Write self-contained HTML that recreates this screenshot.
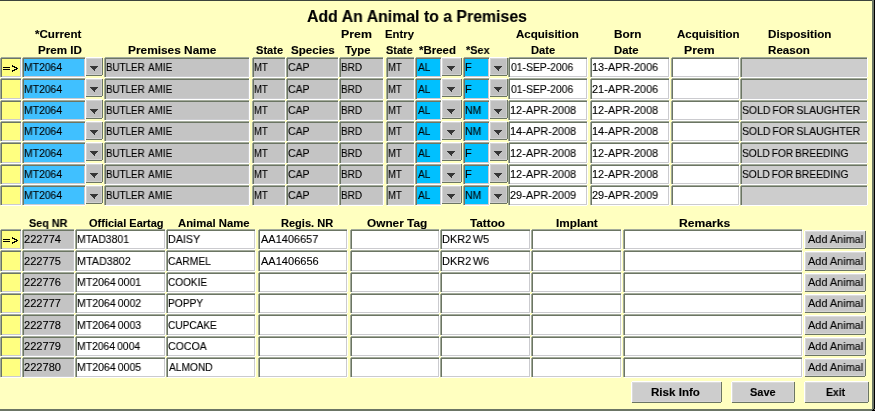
<!DOCTYPE html>
<html><head><meta charset="utf-8"><style>
html,body{margin:0;padding:0;}
body{width:875px;height:411px;overflow:hidden;background:#FFFFC0;position:relative;font-family:"Liberation Sans", sans-serif;}
.f{position:absolute;clip-path:polygon(1px 0,calc(100% - 1px) 0,calc(100% - 1px) 1px,100% 1px,100% calc(100% - 1px),calc(100% - 1px) calc(100% - 1px),calc(100% - 1px) 100%,1px 100%,1px calc(100% - 1px),0 calc(100% - 1px),0 1px,1px 1px);border:1px solid;border-color:#A3AB9B #FFFFFF #FFFFFF #A3AB9B;box-shadow:inset 1px 1px 0 #6B7563, inset -1px -1px 0 #CBCBCF;padding:1px;}
.b{position:absolute;clip-path:polygon(1px 0,calc(100% - 1px) 0,calc(100% - 1px) 1px,100% 1px,100% calc(100% - 1px),calc(100% - 1px) calc(100% - 1px),calc(100% - 1px) 100%,1px 100%,1px calc(100% - 1px),0 calc(100% - 1px),0 1px,1px 1px);border:1px solid;border-color:#FFFFFF #6B7563 #6B7563 #FFFFFF;box-shadow:inset 1px 1px 0 #D4D4D4, inset -1px -1px 0 #D0D0D0;}
.pb{position:absolute;box-shadow:inset 1px 1px 0 #DADADA, inset -1px -1px 0 #D4D4D4;clip-path:polygon(1px 0,calc(100% - 1px) 0,calc(100% - 1px) 1px,100% 1px,100% calc(100% - 1px),calc(100% - 1px) calc(100% - 1px),calc(100% - 1px) 100%,1px 100%,1px calc(100% - 1px),0 calc(100% - 1px),0 1px,1px 1px);border:1px solid;border-color:#FFFFFF #6B7563 #6B7563 #FFFFFF;}
.tri{position:absolute;fill:#363636;}
.t{position:absolute;white-space:nowrap;color:#000;will-change:transform;transform-origin:0 0;-webkit-text-stroke:0.12px #000;}
.ar{position:absolute;fill:#000;}
.fr{position:absolute;}
</style></head><body>
<div class="f" style="left:0px;top:57px;width:18px;height:17px;background:#FFFF80"></div>
<svg class="ar" style="left:0;top:57px" width="20" height="22" shape-rendering="crispEdges"><rect x="3" y="10" width="7" height="1"/><rect x="3" y="12" width="7" height="1"/><rect x="12" y="8" width="1" height="1"/><rect x="12" y="9" width="3" height="1"/><rect x="14" y="10" width="3" height="1"/><rect x="16" y="11" width="2" height="1"/><rect x="14" y="12" width="3" height="1"/><rect x="12" y="13" width="3" height="1"/><rect x="12" y="14" width="1" height="1"/></svg>
<div class="f" style="left:22px;top:57px;width:60px;height:17px;background:#40C0FF"></div>
<div class="f" style="left:104px;top:57px;width:142px;height:17px;background:#C4C4C4"></div>
<div class="f" style="left:252px;top:57px;width:30px;height:17px;background:#C4C4C4"></div>
<div class="f" style="left:286px;top:57px;width:49px;height:17px;background:#C4C4C4"></div>
<div class="f" style="left:339px;top:57px;width:41px;height:17px;background:#C4C4C4"></div>
<div class="f" style="left:386px;top:57px;width:25px;height:17px;background:#C4C4C4"></div>
<div class="f" style="left:415px;top:57px;width:23px;height:17px;background:#00C0FF"></div>
<div class="f" style="left:463px;top:57px;width:23px;height:17px;background:#00C0FF"></div>
<div class="f" style="left:508px;top:57px;width:76px;height:17px;background:#FFFFFF"></div>
<div class="f" style="left:590px;top:57px;width:76px;height:17px;background:#FFFFFF"></div>
<div class="f" style="left:671px;top:57px;width:65px;height:17px;background:#FFFFFF"></div>
<div class="f" style="left:740px;top:57px;width:124px;height:17px;background:#CDCDCD"></div>
<div class="b" style="left:85px;top:57px;width:16px;height:17px;background:#C0C0C0"></div>
<svg class="tri" style="left:90px;top:66px" width="8" height="5" shape-rendering="crispEdges"><rect x="0" y="0" width="8" height="1"/><rect x="1" y="1" width="6" height="1"/><rect x="2" y="2" width="4" height="1"/><rect x="3" y="3" width="2" height="1"/><rect x="4" y="4" width="1" height="1"/></svg>
<div class="b" style="left:441px;top:57px;width:19px;height:17px;background:#C0C0C0"></div>
<svg class="tri" style="left:447px;top:66px" width="8" height="5" shape-rendering="crispEdges"><rect x="0" y="0" width="8" height="1"/><rect x="1" y="1" width="6" height="1"/><rect x="2" y="2" width="4" height="1"/><rect x="3" y="3" width="2" height="1"/><rect x="4" y="4" width="1" height="1"/></svg>
<div class="b" style="left:489px;top:57px;width:17px;height:17px;background:#C0C0C0"></div>
<svg class="tri" style="left:494px;top:66px" width="8" height="5" shape-rendering="crispEdges"><rect x="0" y="0" width="8" height="1"/><rect x="1" y="1" width="6" height="1"/><rect x="2" y="2" width="4" height="1"/><rect x="3" y="3" width="2" height="1"/><rect x="4" y="4" width="1" height="1"/></svg>
<div class="f" style="left:0px;top:78px;width:18px;height:18px;background:#FFFF80"></div>
<div class="f" style="left:22px;top:78px;width:60px;height:18px;background:#40C0FF"></div>
<div class="f" style="left:104px;top:78px;width:142px;height:18px;background:#C4C4C4"></div>
<div class="f" style="left:252px;top:78px;width:30px;height:18px;background:#C4C4C4"></div>
<div class="f" style="left:286px;top:78px;width:49px;height:18px;background:#C4C4C4"></div>
<div class="f" style="left:339px;top:78px;width:41px;height:18px;background:#C4C4C4"></div>
<div class="f" style="left:386px;top:78px;width:25px;height:18px;background:#C4C4C4"></div>
<div class="f" style="left:415px;top:78px;width:23px;height:18px;background:#00C0FF"></div>
<div class="f" style="left:463px;top:78px;width:23px;height:18px;background:#00C0FF"></div>
<div class="f" style="left:508px;top:78px;width:76px;height:18px;background:#FFFFFF"></div>
<div class="f" style="left:590px;top:78px;width:76px;height:18px;background:#FFFFFF"></div>
<div class="f" style="left:671px;top:78px;width:65px;height:18px;background:#FFFFFF"></div>
<div class="f" style="left:740px;top:78px;width:124px;height:18px;background:#CDCDCD"></div>
<div class="b" style="left:85px;top:78px;width:16px;height:17px;background:#C0C0C0"></div>
<svg class="tri" style="left:90px;top:87px" width="8" height="5" shape-rendering="crispEdges"><rect x="0" y="0" width="8" height="1"/><rect x="1" y="1" width="6" height="1"/><rect x="2" y="2" width="4" height="1"/><rect x="3" y="3" width="2" height="1"/><rect x="4" y="4" width="1" height="1"/></svg>
<div class="b" style="left:441px;top:78px;width:19px;height:17px;background:#C0C0C0"></div>
<svg class="tri" style="left:447px;top:87px" width="8" height="5" shape-rendering="crispEdges"><rect x="0" y="0" width="8" height="1"/><rect x="1" y="1" width="6" height="1"/><rect x="2" y="2" width="4" height="1"/><rect x="3" y="3" width="2" height="1"/><rect x="4" y="4" width="1" height="1"/></svg>
<div class="b" style="left:489px;top:78px;width:17px;height:17px;background:#C0C0C0"></div>
<svg class="tri" style="left:494px;top:87px" width="8" height="5" shape-rendering="crispEdges"><rect x="0" y="0" width="8" height="1"/><rect x="1" y="1" width="6" height="1"/><rect x="2" y="2" width="4" height="1"/><rect x="3" y="3" width="2" height="1"/><rect x="4" y="4" width="1" height="1"/></svg>
<div class="f" style="left:0px;top:100px;width:18px;height:17px;background:#FFFF80"></div>
<div class="f" style="left:22px;top:100px;width:60px;height:17px;background:#40C0FF"></div>
<div class="f" style="left:104px;top:100px;width:142px;height:17px;background:#C4C4C4"></div>
<div class="f" style="left:252px;top:100px;width:30px;height:17px;background:#C4C4C4"></div>
<div class="f" style="left:286px;top:100px;width:49px;height:17px;background:#C4C4C4"></div>
<div class="f" style="left:339px;top:100px;width:41px;height:17px;background:#C4C4C4"></div>
<div class="f" style="left:386px;top:100px;width:25px;height:17px;background:#C4C4C4"></div>
<div class="f" style="left:415px;top:100px;width:23px;height:17px;background:#00C0FF"></div>
<div class="f" style="left:463px;top:100px;width:23px;height:17px;background:#00C0FF"></div>
<div class="f" style="left:508px;top:100px;width:76px;height:17px;background:#FFFFFF"></div>
<div class="f" style="left:590px;top:100px;width:76px;height:17px;background:#FFFFFF"></div>
<div class="f" style="left:671px;top:100px;width:65px;height:17px;background:#FFFFFF"></div>
<div class="f" style="left:740px;top:100px;width:124px;height:17px;background:#CDCDCD"></div>
<div class="b" style="left:85px;top:99px;width:16px;height:18px;background:#C0C0C0"></div>
<svg class="tri" style="left:90px;top:109px" width="8" height="5" shape-rendering="crispEdges"><rect x="0" y="0" width="8" height="1"/><rect x="1" y="1" width="6" height="1"/><rect x="2" y="2" width="4" height="1"/><rect x="3" y="3" width="2" height="1"/><rect x="4" y="4" width="1" height="1"/></svg>
<div class="b" style="left:441px;top:99px;width:19px;height:18px;background:#C0C0C0"></div>
<svg class="tri" style="left:447px;top:109px" width="8" height="5" shape-rendering="crispEdges"><rect x="0" y="0" width="8" height="1"/><rect x="1" y="1" width="6" height="1"/><rect x="2" y="2" width="4" height="1"/><rect x="3" y="3" width="2" height="1"/><rect x="4" y="4" width="1" height="1"/></svg>
<div class="b" style="left:489px;top:99px;width:17px;height:18px;background:#C0C0C0"></div>
<svg class="tri" style="left:494px;top:109px" width="8" height="5" shape-rendering="crispEdges"><rect x="0" y="0" width="8" height="1"/><rect x="1" y="1" width="6" height="1"/><rect x="2" y="2" width="4" height="1"/><rect x="3" y="3" width="2" height="1"/><rect x="4" y="4" width="1" height="1"/></svg>
<div class="f" style="left:0px;top:121px;width:18px;height:17px;background:#FFFF80"></div>
<div class="f" style="left:22px;top:121px;width:60px;height:17px;background:#40C0FF"></div>
<div class="f" style="left:104px;top:121px;width:142px;height:17px;background:#C4C4C4"></div>
<div class="f" style="left:252px;top:121px;width:30px;height:17px;background:#C4C4C4"></div>
<div class="f" style="left:286px;top:121px;width:49px;height:17px;background:#C4C4C4"></div>
<div class="f" style="left:339px;top:121px;width:41px;height:17px;background:#C4C4C4"></div>
<div class="f" style="left:386px;top:121px;width:25px;height:17px;background:#C4C4C4"></div>
<div class="f" style="left:415px;top:121px;width:23px;height:17px;background:#00C0FF"></div>
<div class="f" style="left:463px;top:121px;width:23px;height:17px;background:#00C0FF"></div>
<div class="f" style="left:508px;top:121px;width:76px;height:17px;background:#FFFFFF"></div>
<div class="f" style="left:590px;top:121px;width:76px;height:17px;background:#FFFFFF"></div>
<div class="f" style="left:671px;top:121px;width:65px;height:17px;background:#FFFFFF"></div>
<div class="f" style="left:740px;top:121px;width:124px;height:17px;background:#CDCDCD"></div>
<div class="b" style="left:85px;top:121px;width:16px;height:17px;background:#C0C0C0"></div>
<svg class="tri" style="left:90px;top:130px" width="8" height="5" shape-rendering="crispEdges"><rect x="0" y="0" width="8" height="1"/><rect x="1" y="1" width="6" height="1"/><rect x="2" y="2" width="4" height="1"/><rect x="3" y="3" width="2" height="1"/><rect x="4" y="4" width="1" height="1"/></svg>
<div class="b" style="left:441px;top:121px;width:19px;height:17px;background:#C0C0C0"></div>
<svg class="tri" style="left:447px;top:130px" width="8" height="5" shape-rendering="crispEdges"><rect x="0" y="0" width="8" height="1"/><rect x="1" y="1" width="6" height="1"/><rect x="2" y="2" width="4" height="1"/><rect x="3" y="3" width="2" height="1"/><rect x="4" y="4" width="1" height="1"/></svg>
<div class="b" style="left:489px;top:121px;width:17px;height:17px;background:#C0C0C0"></div>
<svg class="tri" style="left:494px;top:130px" width="8" height="5" shape-rendering="crispEdges"><rect x="0" y="0" width="8" height="1"/><rect x="1" y="1" width="6" height="1"/><rect x="2" y="2" width="4" height="1"/><rect x="3" y="3" width="2" height="1"/><rect x="4" y="4" width="1" height="1"/></svg>
<div class="f" style="left:0px;top:142px;width:18px;height:18px;background:#FFFF80"></div>
<div class="f" style="left:22px;top:142px;width:60px;height:18px;background:#40C0FF"></div>
<div class="f" style="left:104px;top:142px;width:142px;height:18px;background:#C4C4C4"></div>
<div class="f" style="left:252px;top:142px;width:30px;height:18px;background:#C4C4C4"></div>
<div class="f" style="left:286px;top:142px;width:49px;height:18px;background:#C4C4C4"></div>
<div class="f" style="left:339px;top:142px;width:41px;height:18px;background:#C4C4C4"></div>
<div class="f" style="left:386px;top:142px;width:25px;height:18px;background:#C4C4C4"></div>
<div class="f" style="left:415px;top:142px;width:23px;height:18px;background:#00C0FF"></div>
<div class="f" style="left:463px;top:142px;width:23px;height:18px;background:#00C0FF"></div>
<div class="f" style="left:508px;top:142px;width:76px;height:18px;background:#FFFFFF"></div>
<div class="f" style="left:590px;top:142px;width:76px;height:18px;background:#FFFFFF"></div>
<div class="f" style="left:671px;top:142px;width:65px;height:18px;background:#FFFFFF"></div>
<div class="f" style="left:740px;top:142px;width:124px;height:18px;background:#CDCDCD"></div>
<div class="b" style="left:85px;top:142px;width:16px;height:17px;background:#C0C0C0"></div>
<svg class="tri" style="left:90px;top:151px" width="8" height="5" shape-rendering="crispEdges"><rect x="0" y="0" width="8" height="1"/><rect x="1" y="1" width="6" height="1"/><rect x="2" y="2" width="4" height="1"/><rect x="3" y="3" width="2" height="1"/><rect x="4" y="4" width="1" height="1"/></svg>
<div class="b" style="left:441px;top:142px;width:19px;height:17px;background:#C0C0C0"></div>
<svg class="tri" style="left:447px;top:151px" width="8" height="5" shape-rendering="crispEdges"><rect x="0" y="0" width="8" height="1"/><rect x="1" y="1" width="6" height="1"/><rect x="2" y="2" width="4" height="1"/><rect x="3" y="3" width="2" height="1"/><rect x="4" y="4" width="1" height="1"/></svg>
<div class="b" style="left:489px;top:142px;width:17px;height:17px;background:#C0C0C0"></div>
<svg class="tri" style="left:494px;top:151px" width="8" height="5" shape-rendering="crispEdges"><rect x="0" y="0" width="8" height="1"/><rect x="1" y="1" width="6" height="1"/><rect x="2" y="2" width="4" height="1"/><rect x="3" y="3" width="2" height="1"/><rect x="4" y="4" width="1" height="1"/></svg>
<div class="f" style="left:0px;top:164px;width:18px;height:17px;background:#FFFF80"></div>
<div class="f" style="left:22px;top:164px;width:60px;height:17px;background:#40C0FF"></div>
<div class="f" style="left:104px;top:164px;width:142px;height:17px;background:#C4C4C4"></div>
<div class="f" style="left:252px;top:164px;width:30px;height:17px;background:#C4C4C4"></div>
<div class="f" style="left:286px;top:164px;width:49px;height:17px;background:#C4C4C4"></div>
<div class="f" style="left:339px;top:164px;width:41px;height:17px;background:#C4C4C4"></div>
<div class="f" style="left:386px;top:164px;width:25px;height:17px;background:#C4C4C4"></div>
<div class="f" style="left:415px;top:164px;width:23px;height:17px;background:#00C0FF"></div>
<div class="f" style="left:463px;top:164px;width:23px;height:17px;background:#00C0FF"></div>
<div class="f" style="left:508px;top:164px;width:76px;height:17px;background:#FFFFFF"></div>
<div class="f" style="left:590px;top:164px;width:76px;height:17px;background:#FFFFFF"></div>
<div class="f" style="left:671px;top:164px;width:65px;height:17px;background:#FFFFFF"></div>
<div class="f" style="left:740px;top:164px;width:124px;height:17px;background:#CDCDCD"></div>
<div class="b" style="left:85px;top:163px;width:16px;height:18px;background:#C0C0C0"></div>
<svg class="tri" style="left:90px;top:173px" width="8" height="5" shape-rendering="crispEdges"><rect x="0" y="0" width="8" height="1"/><rect x="1" y="1" width="6" height="1"/><rect x="2" y="2" width="4" height="1"/><rect x="3" y="3" width="2" height="1"/><rect x="4" y="4" width="1" height="1"/></svg>
<div class="b" style="left:441px;top:163px;width:19px;height:18px;background:#C0C0C0"></div>
<svg class="tri" style="left:447px;top:173px" width="8" height="5" shape-rendering="crispEdges"><rect x="0" y="0" width="8" height="1"/><rect x="1" y="1" width="6" height="1"/><rect x="2" y="2" width="4" height="1"/><rect x="3" y="3" width="2" height="1"/><rect x="4" y="4" width="1" height="1"/></svg>
<div class="b" style="left:489px;top:163px;width:17px;height:18px;background:#C0C0C0"></div>
<svg class="tri" style="left:494px;top:173px" width="8" height="5" shape-rendering="crispEdges"><rect x="0" y="0" width="8" height="1"/><rect x="1" y="1" width="6" height="1"/><rect x="2" y="2" width="4" height="1"/><rect x="3" y="3" width="2" height="1"/><rect x="4" y="4" width="1" height="1"/></svg>
<div class="f" style="left:0px;top:185px;width:18px;height:17px;background:#FFFF80"></div>
<div class="f" style="left:22px;top:185px;width:60px;height:17px;background:#40C0FF"></div>
<div class="f" style="left:104px;top:185px;width:142px;height:17px;background:#C4C4C4"></div>
<div class="f" style="left:252px;top:185px;width:30px;height:17px;background:#C4C4C4"></div>
<div class="f" style="left:286px;top:185px;width:49px;height:17px;background:#C4C4C4"></div>
<div class="f" style="left:339px;top:185px;width:41px;height:17px;background:#C4C4C4"></div>
<div class="f" style="left:386px;top:185px;width:25px;height:17px;background:#C4C4C4"></div>
<div class="f" style="left:415px;top:185px;width:23px;height:17px;background:#00C0FF"></div>
<div class="f" style="left:463px;top:185px;width:23px;height:17px;background:#00C0FF"></div>
<div class="f" style="left:508px;top:185px;width:76px;height:17px;background:#FFFFFF"></div>
<div class="f" style="left:590px;top:185px;width:76px;height:17px;background:#FFFFFF"></div>
<div class="f" style="left:671px;top:185px;width:65px;height:17px;background:#FFFFFF"></div>
<div class="f" style="left:740px;top:185px;width:124px;height:17px;background:#CDCDCD"></div>
<div class="b" style="left:85px;top:185px;width:16px;height:17px;background:#C0C0C0"></div>
<svg class="tri" style="left:90px;top:194px" width="8" height="5" shape-rendering="crispEdges"><rect x="0" y="0" width="8" height="1"/><rect x="1" y="1" width="6" height="1"/><rect x="2" y="2" width="4" height="1"/><rect x="3" y="3" width="2" height="1"/><rect x="4" y="4" width="1" height="1"/></svg>
<div class="b" style="left:441px;top:185px;width:19px;height:17px;background:#C0C0C0"></div>
<svg class="tri" style="left:447px;top:194px" width="8" height="5" shape-rendering="crispEdges"><rect x="0" y="0" width="8" height="1"/><rect x="1" y="1" width="6" height="1"/><rect x="2" y="2" width="4" height="1"/><rect x="3" y="3" width="2" height="1"/><rect x="4" y="4" width="1" height="1"/></svg>
<div class="b" style="left:489px;top:185px;width:17px;height:17px;background:#C0C0C0"></div>
<svg class="tri" style="left:494px;top:194px" width="8" height="5" shape-rendering="crispEdges"><rect x="0" y="0" width="8" height="1"/><rect x="1" y="1" width="6" height="1"/><rect x="2" y="2" width="4" height="1"/><rect x="3" y="3" width="2" height="1"/><rect x="4" y="4" width="1" height="1"/></svg>
<div class="f" style="left:0px;top:229px;width:18px;height:17px;background:#FFFF80"></div>
<svg class="ar" style="left:0;top:229px" width="20" height="22" shape-rendering="crispEdges"><rect x="3" y="10" width="7" height="1"/><rect x="3" y="12" width="7" height="1"/><rect x="12" y="8" width="1" height="1"/><rect x="12" y="9" width="3" height="1"/><rect x="14" y="10" width="3" height="1"/><rect x="16" y="11" width="2" height="1"/><rect x="14" y="12" width="3" height="1"/><rect x="12" y="13" width="3" height="1"/><rect x="12" y="14" width="1" height="1"/></svg>
<div class="f" style="left:22px;top:229px;width:49px;height:17px;background:#C4C4C4"></div>
<div class="f" style="left:75px;top:229px;width:87px;height:17px;background:#FFFFFF"></div>
<div class="f" style="left:166px;top:229px;width:86px;height:17px;background:#FFFFFF"></div>
<div class="f" style="left:258px;top:229px;width:86px;height:17px;background:#FFFFFF"></div>
<div class="f" style="left:350px;top:229px;width:86px;height:17px;background:#FFFFFF"></div>
<div class="f" style="left:440px;top:229px;width:87px;height:17px;background:#FFFFFF"></div>
<div class="f" style="left:531px;top:229px;width:87px;height:17px;background:#FFFFFF"></div>
<div class="f" style="left:623px;top:229px;width:176px;height:17px;background:#FFFFFF"></div>
<div class="pb" style="left:804px;top:230px;width:60px;height:17px;background:#C8C8C8"></div>
<div class="f" style="left:0px;top:250px;width:18px;height:18px;background:#FFFF80"></div>
<div class="f" style="left:22px;top:250px;width:49px;height:18px;background:#C4C4C4"></div>
<div class="f" style="left:75px;top:250px;width:87px;height:18px;background:#FFFFFF"></div>
<div class="f" style="left:166px;top:250px;width:86px;height:18px;background:#FFFFFF"></div>
<div class="f" style="left:258px;top:250px;width:86px;height:18px;background:#FFFFFF"></div>
<div class="f" style="left:350px;top:250px;width:86px;height:18px;background:#FFFFFF"></div>
<div class="f" style="left:440px;top:250px;width:87px;height:18px;background:#FFFFFF"></div>
<div class="f" style="left:531px;top:250px;width:87px;height:18px;background:#FFFFFF"></div>
<div class="f" style="left:623px;top:250px;width:176px;height:18px;background:#FFFFFF"></div>
<div class="pb" style="left:804px;top:251px;width:60px;height:18px;background:#C8C8C8"></div>
<div class="f" style="left:0px;top:272px;width:18px;height:17px;background:#FFFF80"></div>
<div class="f" style="left:22px;top:272px;width:49px;height:17px;background:#C4C4C4"></div>
<div class="f" style="left:75px;top:272px;width:87px;height:17px;background:#FFFFFF"></div>
<div class="f" style="left:166px;top:272px;width:86px;height:17px;background:#FFFFFF"></div>
<div class="f" style="left:258px;top:272px;width:86px;height:17px;background:#FFFFFF"></div>
<div class="f" style="left:350px;top:272px;width:86px;height:17px;background:#FFFFFF"></div>
<div class="f" style="left:440px;top:272px;width:87px;height:17px;background:#FFFFFF"></div>
<div class="f" style="left:531px;top:272px;width:87px;height:17px;background:#FFFFFF"></div>
<div class="f" style="left:623px;top:272px;width:176px;height:17px;background:#FFFFFF"></div>
<div class="pb" style="left:804px;top:273px;width:60px;height:17px;background:#C8C8C8"></div>
<div class="f" style="left:0px;top:293px;width:18px;height:17px;background:#FFFF80"></div>
<div class="f" style="left:22px;top:293px;width:49px;height:17px;background:#C4C4C4"></div>
<div class="f" style="left:75px;top:293px;width:87px;height:17px;background:#FFFFFF"></div>
<div class="f" style="left:166px;top:293px;width:86px;height:17px;background:#FFFFFF"></div>
<div class="f" style="left:258px;top:293px;width:86px;height:17px;background:#FFFFFF"></div>
<div class="f" style="left:350px;top:293px;width:86px;height:17px;background:#FFFFFF"></div>
<div class="f" style="left:440px;top:293px;width:87px;height:17px;background:#FFFFFF"></div>
<div class="f" style="left:531px;top:293px;width:87px;height:17px;background:#FFFFFF"></div>
<div class="f" style="left:623px;top:293px;width:176px;height:17px;background:#FFFFFF"></div>
<div class="pb" style="left:804px;top:294px;width:60px;height:17px;background:#C8C8C8"></div>
<div class="f" style="left:0px;top:314px;width:18px;height:18px;background:#FFFF80"></div>
<div class="f" style="left:22px;top:314px;width:49px;height:18px;background:#C4C4C4"></div>
<div class="f" style="left:75px;top:314px;width:87px;height:18px;background:#FFFFFF"></div>
<div class="f" style="left:166px;top:314px;width:86px;height:18px;background:#FFFFFF"></div>
<div class="f" style="left:258px;top:314px;width:86px;height:18px;background:#FFFFFF"></div>
<div class="f" style="left:350px;top:314px;width:86px;height:18px;background:#FFFFFF"></div>
<div class="f" style="left:440px;top:314px;width:87px;height:18px;background:#FFFFFF"></div>
<div class="f" style="left:531px;top:314px;width:87px;height:18px;background:#FFFFFF"></div>
<div class="f" style="left:623px;top:314px;width:176px;height:18px;background:#FFFFFF"></div>
<div class="pb" style="left:804px;top:315px;width:60px;height:18px;background:#C8C8C8"></div>
<div class="f" style="left:0px;top:336px;width:18px;height:17px;background:#FFFF80"></div>
<div class="f" style="left:22px;top:336px;width:49px;height:17px;background:#C4C4C4"></div>
<div class="f" style="left:75px;top:336px;width:87px;height:17px;background:#FFFFFF"></div>
<div class="f" style="left:166px;top:336px;width:86px;height:17px;background:#FFFFFF"></div>
<div class="f" style="left:258px;top:336px;width:86px;height:17px;background:#FFFFFF"></div>
<div class="f" style="left:350px;top:336px;width:86px;height:17px;background:#FFFFFF"></div>
<div class="f" style="left:440px;top:336px;width:87px;height:17px;background:#FFFFFF"></div>
<div class="f" style="left:531px;top:336px;width:87px;height:17px;background:#FFFFFF"></div>
<div class="f" style="left:623px;top:336px;width:176px;height:17px;background:#FFFFFF"></div>
<div class="pb" style="left:804px;top:337px;width:60px;height:17px;background:#C8C8C8"></div>
<div class="f" style="left:0px;top:357px;width:18px;height:17px;background:#FFFF80"></div>
<div class="f" style="left:22px;top:357px;width:49px;height:17px;background:#C4C4C4"></div>
<div class="f" style="left:75px;top:357px;width:87px;height:17px;background:#FFFFFF"></div>
<div class="f" style="left:166px;top:357px;width:86px;height:17px;background:#FFFFFF"></div>
<div class="f" style="left:258px;top:357px;width:86px;height:17px;background:#FFFFFF"></div>
<div class="f" style="left:350px;top:357px;width:86px;height:17px;background:#FFFFFF"></div>
<div class="f" style="left:440px;top:357px;width:87px;height:17px;background:#FFFFFF"></div>
<div class="f" style="left:531px;top:357px;width:87px;height:17px;background:#FFFFFF"></div>
<div class="f" style="left:623px;top:357px;width:176px;height:17px;background:#FFFFFF"></div>
<div class="pb" style="left:804px;top:358px;width:60px;height:17px;background:#C8C8C8"></div>
<div class="pb" style="left:631px;top:381px;width:89px;height:20px;background:#CDCDCD"></div>
<div class="pb" style="left:731px;top:381px;width:62px;height:20px;background:#CDCDCD"></div>
<div class="pb" style="left:804px;top:381px;width:63px;height:20px;background:#CDCDCD"></div>
<span class="t" style="left:24.1px;top:59.7px;font-size:11px;line-height:15px;font-weight:400;letter-spacing:0.000px;word-spacing:0px;transform:scaleX(0.9436)">MT2064</span>
<span class="t" style="left:106.1px;top:59.7px;font-size:11px;line-height:15px;font-weight:400;letter-spacing:0.000px;word-spacing:1.5px;transform:scaleX(0.8904)">BUTLER AMIE</span>
<span class="t" style="left:254.1px;top:59.7px;font-size:11px;line-height:15px;font-weight:400;letter-spacing:0.000px;word-spacing:0px;transform:scaleX(0.8600)">MT</span>
<span class="t" style="left:288.0px;top:59.7px;font-size:11px;line-height:15px;font-weight:400;letter-spacing:0.000px;word-spacing:0px;transform:scaleX(0.9524)">CAP</span>
<span class="t" style="left:341.1px;top:59.7px;font-size:11px;line-height:15px;font-weight:400;letter-spacing:0.000px;word-spacing:0px;transform:scaleX(0.9091)">BRD</span>
<span class="t" style="left:388.1px;top:59.7px;font-size:11px;line-height:15px;font-weight:400;letter-spacing:0.000px;word-spacing:0px;transform:scaleX(0.8600)">MT</span>
<span class="t" style="left:418.0px;top:59.7px;font-size:11px;line-height:15px;font-weight:400;letter-spacing:0.000px;word-spacing:0px;transform:scaleX(0.9231)">AL</span>
<span class="t" style="left:465.0px;top:59.7px;font-size:11px;line-height:15px;font-weight:400;letter-spacing:0.000px;word-spacing:0px">F</span>
<span class="t" style="left:511.0px;top:59.7px;font-size:11px;line-height:15px;font-weight:400;letter-spacing:0.000px;word-spacing:0px;transform:scaleX(0.9424)">01-SEP-2006</span>
<span class="t" style="left:592.0px;top:59.7px;font-size:11px;line-height:15px;font-weight:400;letter-spacing:0.000px;word-spacing:0px;transform:scaleX(0.9923)">13-APR-2006</span>
<span class="t" style="left:24.1px;top:81.7px;font-size:11px;line-height:15px;font-weight:400;letter-spacing:0.000px;word-spacing:0px;transform:scaleX(0.9436)">MT2064</span>
<span class="t" style="left:106.1px;top:81.7px;font-size:11px;line-height:15px;font-weight:400;letter-spacing:0.000px;word-spacing:1.5px;transform:scaleX(0.8904)">BUTLER AMIE</span>
<span class="t" style="left:254.1px;top:81.7px;font-size:11px;line-height:15px;font-weight:400;letter-spacing:0.000px;word-spacing:0px;transform:scaleX(0.8600)">MT</span>
<span class="t" style="left:288.0px;top:81.7px;font-size:11px;line-height:15px;font-weight:400;letter-spacing:0.000px;word-spacing:0px;transform:scaleX(0.9524)">CAP</span>
<span class="t" style="left:341.1px;top:81.7px;font-size:11px;line-height:15px;font-weight:400;letter-spacing:0.000px;word-spacing:0px;transform:scaleX(0.9091)">BRD</span>
<span class="t" style="left:388.1px;top:81.7px;font-size:11px;line-height:15px;font-weight:400;letter-spacing:0.000px;word-spacing:0px;transform:scaleX(0.8600)">MT</span>
<span class="t" style="left:418.0px;top:81.7px;font-size:11px;line-height:15px;font-weight:400;letter-spacing:0.000px;word-spacing:0px;transform:scaleX(0.9231)">AL</span>
<span class="t" style="left:465.0px;top:81.7px;font-size:11px;line-height:15px;font-weight:400;letter-spacing:0.000px;word-spacing:0px">F</span>
<span class="t" style="left:511.0px;top:81.7px;font-size:11px;line-height:15px;font-weight:400;letter-spacing:0.000px;word-spacing:0px;transform:scaleX(0.9424)">01-SEP-2006</span>
<span class="t" style="left:592.0px;top:81.7px;font-size:11px;line-height:15px;font-weight:400;letter-spacing:0.000px;word-spacing:0px;transform:scaleX(0.9923)">21-APR-2006</span>
<span class="t" style="left:24.1px;top:102.7px;font-size:11px;line-height:15px;font-weight:400;letter-spacing:0.000px;word-spacing:0px;transform:scaleX(0.9436)">MT2064</span>
<span class="t" style="left:106.1px;top:102.7px;font-size:11px;line-height:15px;font-weight:400;letter-spacing:0.000px;word-spacing:1.5px;transform:scaleX(0.8904)">BUTLER AMIE</span>
<span class="t" style="left:254.1px;top:102.7px;font-size:11px;line-height:15px;font-weight:400;letter-spacing:0.000px;word-spacing:0px;transform:scaleX(0.8600)">MT</span>
<span class="t" style="left:288.0px;top:102.7px;font-size:11px;line-height:15px;font-weight:400;letter-spacing:0.000px;word-spacing:0px;transform:scaleX(0.9524)">CAP</span>
<span class="t" style="left:341.1px;top:102.7px;font-size:11px;line-height:15px;font-weight:400;letter-spacing:0.000px;word-spacing:0px;transform:scaleX(0.9091)">BRD</span>
<span class="t" style="left:388.1px;top:102.7px;font-size:11px;line-height:15px;font-weight:400;letter-spacing:0.000px;word-spacing:0px;transform:scaleX(0.8600)">MT</span>
<span class="t" style="left:418.0px;top:102.7px;font-size:11px;line-height:15px;font-weight:400;letter-spacing:0.000px;word-spacing:0px;transform:scaleX(0.9231)">AL</span>
<span class="t" style="left:465.1px;top:102.7px;font-size:11px;line-height:15px;font-weight:400;letter-spacing:0.000px;word-spacing:0px;transform:scaleX(0.9467)">NM</span>
<span class="t" style="left:510.0px;top:102.7px;font-size:11px;line-height:15px;font-weight:400;letter-spacing:0.000px;word-spacing:0px;transform:scaleX(0.9923)">12-APR-2008</span>
<span class="t" style="left:592.0px;top:102.7px;font-size:11px;line-height:15px;font-weight:400;letter-spacing:0.000px;word-spacing:0px;transform:scaleX(0.9923)">12-APR-2008</span>
<span class="t" style="left:742.1px;top:102.7px;font-size:11px;line-height:15px;font-weight:400;letter-spacing:0.000px;word-spacing:-1px;transform:scaleX(0.9496)">SOLD FOR SLAUGHTER</span>
<span class="t" style="left:24.1px;top:123.7px;font-size:11px;line-height:15px;font-weight:400;letter-spacing:0.000px;word-spacing:0px;transform:scaleX(0.9436)">MT2064</span>
<span class="t" style="left:106.1px;top:123.7px;font-size:11px;line-height:15px;font-weight:400;letter-spacing:0.000px;word-spacing:1.5px;transform:scaleX(0.8904)">BUTLER AMIE</span>
<span class="t" style="left:254.1px;top:123.7px;font-size:11px;line-height:15px;font-weight:400;letter-spacing:0.000px;word-spacing:0px;transform:scaleX(0.8600)">MT</span>
<span class="t" style="left:288.0px;top:123.7px;font-size:11px;line-height:15px;font-weight:400;letter-spacing:0.000px;word-spacing:0px;transform:scaleX(0.9524)">CAP</span>
<span class="t" style="left:341.1px;top:123.7px;font-size:11px;line-height:15px;font-weight:400;letter-spacing:0.000px;word-spacing:0px;transform:scaleX(0.9091)">BRD</span>
<span class="t" style="left:388.1px;top:123.7px;font-size:11px;line-height:15px;font-weight:400;letter-spacing:0.000px;word-spacing:0px;transform:scaleX(0.8600)">MT</span>
<span class="t" style="left:418.0px;top:123.7px;font-size:11px;line-height:15px;font-weight:400;letter-spacing:0.000px;word-spacing:0px;transform:scaleX(0.9231)">AL</span>
<span class="t" style="left:465.1px;top:123.7px;font-size:11px;line-height:15px;font-weight:400;letter-spacing:0.000px;word-spacing:0px;transform:scaleX(0.9467)">NM</span>
<span class="t" style="left:510.0px;top:123.7px;font-size:11px;line-height:15px;font-weight:400;letter-spacing:0.000px;word-spacing:0px;transform:scaleX(0.9923)">14-APR-2008</span>
<span class="t" style="left:592.0px;top:123.7px;font-size:11px;line-height:15px;font-weight:400;letter-spacing:0.000px;word-spacing:0px;transform:scaleX(0.9923)">14-APR-2008</span>
<span class="t" style="left:742.1px;top:123.7px;font-size:11px;line-height:15px;font-weight:400;letter-spacing:0.000px;word-spacing:-1px;transform:scaleX(0.9496)">SOLD FOR SLAUGHTER</span>
<span class="t" style="left:24.1px;top:145.7px;font-size:11px;line-height:15px;font-weight:400;letter-spacing:0.000px;word-spacing:0px;transform:scaleX(0.9436)">MT2064</span>
<span class="t" style="left:106.1px;top:145.7px;font-size:11px;line-height:15px;font-weight:400;letter-spacing:0.000px;word-spacing:1.5px;transform:scaleX(0.8904)">BUTLER AMIE</span>
<span class="t" style="left:254.1px;top:145.7px;font-size:11px;line-height:15px;font-weight:400;letter-spacing:0.000px;word-spacing:0px;transform:scaleX(0.8600)">MT</span>
<span class="t" style="left:288.0px;top:145.7px;font-size:11px;line-height:15px;font-weight:400;letter-spacing:0.000px;word-spacing:0px;transform:scaleX(0.9524)">CAP</span>
<span class="t" style="left:341.1px;top:145.7px;font-size:11px;line-height:15px;font-weight:400;letter-spacing:0.000px;word-spacing:0px;transform:scaleX(0.9091)">BRD</span>
<span class="t" style="left:388.1px;top:145.7px;font-size:11px;line-height:15px;font-weight:400;letter-spacing:0.000px;word-spacing:0px;transform:scaleX(0.8600)">MT</span>
<span class="t" style="left:418.0px;top:145.7px;font-size:11px;line-height:15px;font-weight:400;letter-spacing:0.000px;word-spacing:0px;transform:scaleX(0.9231)">AL</span>
<span class="t" style="left:465.0px;top:145.7px;font-size:11px;line-height:15px;font-weight:400;letter-spacing:0.000px;word-spacing:0px">F</span>
<span class="t" style="left:510.0px;top:145.7px;font-size:11px;line-height:15px;font-weight:400;letter-spacing:0.000px;word-spacing:0px;transform:scaleX(0.9923)">12-APR-2008</span>
<span class="t" style="left:592.0px;top:145.7px;font-size:11px;line-height:15px;font-weight:400;letter-spacing:0.000px;word-spacing:0px;transform:scaleX(0.9923)">12-APR-2008</span>
<span class="t" style="left:742.1px;top:145.7px;font-size:11px;line-height:15px;font-weight:400;letter-spacing:0.000px;word-spacing:-1px;transform:scaleX(0.9274)">SOLD FOR BREEDING</span>
<span class="t" style="left:24.1px;top:166.7px;font-size:11px;line-height:15px;font-weight:400;letter-spacing:0.000px;word-spacing:0px;transform:scaleX(0.9436)">MT2064</span>
<span class="t" style="left:106.1px;top:166.7px;font-size:11px;line-height:15px;font-weight:400;letter-spacing:0.000px;word-spacing:1.5px;transform:scaleX(0.8904)">BUTLER AMIE</span>
<span class="t" style="left:254.1px;top:166.7px;font-size:11px;line-height:15px;font-weight:400;letter-spacing:0.000px;word-spacing:0px;transform:scaleX(0.8600)">MT</span>
<span class="t" style="left:288.0px;top:166.7px;font-size:11px;line-height:15px;font-weight:400;letter-spacing:0.000px;word-spacing:0px;transform:scaleX(0.9524)">CAP</span>
<span class="t" style="left:341.1px;top:166.7px;font-size:11px;line-height:15px;font-weight:400;letter-spacing:0.000px;word-spacing:0px;transform:scaleX(0.9091)">BRD</span>
<span class="t" style="left:388.1px;top:166.7px;font-size:11px;line-height:15px;font-weight:400;letter-spacing:0.000px;word-spacing:0px;transform:scaleX(0.8600)">MT</span>
<span class="t" style="left:418.0px;top:166.7px;font-size:11px;line-height:15px;font-weight:400;letter-spacing:0.000px;word-spacing:0px;transform:scaleX(0.9231)">AL</span>
<span class="t" style="left:465.0px;top:166.7px;font-size:11px;line-height:15px;font-weight:400;letter-spacing:0.000px;word-spacing:0px">F</span>
<span class="t" style="left:510.0px;top:166.7px;font-size:11px;line-height:15px;font-weight:400;letter-spacing:0.000px;word-spacing:0px;transform:scaleX(0.9923)">12-APR-2008</span>
<span class="t" style="left:592.0px;top:166.7px;font-size:11px;line-height:15px;font-weight:400;letter-spacing:0.000px;word-spacing:0px;transform:scaleX(0.9923)">12-APR-2008</span>
<span class="t" style="left:742.1px;top:166.7px;font-size:11px;line-height:15px;font-weight:400;letter-spacing:0.000px;word-spacing:-1px;transform:scaleX(0.9274)">SOLD FOR BREEDING</span>
<span class="t" style="left:24.1px;top:187.7px;font-size:11px;line-height:15px;font-weight:400;letter-spacing:0.000px;word-spacing:0px;transform:scaleX(0.9436)">MT2064</span>
<span class="t" style="left:106.1px;top:187.7px;font-size:11px;line-height:15px;font-weight:400;letter-spacing:0.000px;word-spacing:1.5px;transform:scaleX(0.8904)">BUTLER AMIE</span>
<span class="t" style="left:254.1px;top:187.7px;font-size:11px;line-height:15px;font-weight:400;letter-spacing:0.000px;word-spacing:0px;transform:scaleX(0.8600)">MT</span>
<span class="t" style="left:288.0px;top:187.7px;font-size:11px;line-height:15px;font-weight:400;letter-spacing:0.000px;word-spacing:0px;transform:scaleX(0.9524)">CAP</span>
<span class="t" style="left:341.1px;top:187.7px;font-size:11px;line-height:15px;font-weight:400;letter-spacing:0.000px;word-spacing:0px;transform:scaleX(0.9091)">BRD</span>
<span class="t" style="left:388.1px;top:187.7px;font-size:11px;line-height:15px;font-weight:400;letter-spacing:0.000px;word-spacing:0px;transform:scaleX(0.8600)">MT</span>
<span class="t" style="left:418.0px;top:187.7px;font-size:11px;line-height:15px;font-weight:400;letter-spacing:0.000px;word-spacing:0px;transform:scaleX(0.9231)">AL</span>
<span class="t" style="left:465.1px;top:187.7px;font-size:11px;line-height:15px;font-weight:400;letter-spacing:0.000px;word-spacing:0px;transform:scaleX(0.9467)">NM</span>
<span class="t" style="left:510.0px;top:187.7px;font-size:11px;line-height:15px;font-weight:400;letter-spacing:0.000px;word-spacing:0px;transform:scaleX(0.9923)">29-APR-2009</span>
<span class="t" style="left:592.0px;top:187.7px;font-size:11px;line-height:15px;font-weight:400;letter-spacing:0.000px;word-spacing:0px;transform:scaleX(0.9923)">29-APR-2009</span>
<span class="t" style="left:24.0px;top:231.7px;font-size:11px;line-height:15px;font-weight:400;letter-spacing:0.000px;word-spacing:0px;transform:scaleX(1.0086)">222774</span>
<span class="t" style="left:77.1px;top:231.7px;font-size:11px;line-height:15px;font-weight:400;letter-spacing:0.000px;word-spacing:0px;transform:scaleX(0.9491)">MTAD3801</span>
<span class="t" style="left:168.0px;top:231.7px;font-size:11px;line-height:15px;font-weight:400;letter-spacing:0.000px;word-spacing:0px;transform:scaleX(0.9750)">DAISY</span>
<span class="t" style="left:261.0px;top:231.7px;font-size:11px;line-height:15px;font-weight:400;letter-spacing:0.000px;word-spacing:0px;transform:scaleX(0.9947)">AA1406657</span>
<span class="t" style="left:442.0px;top:231.7px;font-size:11px;line-height:15px;font-weight:400;letter-spacing:0.000px;word-spacing:-1.5px;transform:scaleX(0.9935)">DKR2 W5</span>
<span class="t" style="left:808.0px;top:231.7px;font-size:11px;line-height:15px;font-weight:400;letter-spacing:0.000px;word-spacing:0px;transform:scaleX(0.9909)">Add Animal</span>
<span class="t" style="left:24.0px;top:253.7px;font-size:11px;line-height:15px;font-weight:400;letter-spacing:0.000px;word-spacing:0px;transform:scaleX(1.0086)">222775</span>
<span class="t" style="left:77.0px;top:253.7px;font-size:11px;line-height:15px;font-weight:400;letter-spacing:0.000px;word-spacing:0px;transform:scaleX(0.9811)">MTAD3802</span>
<span class="t" style="left:168.1px;top:253.7px;font-size:11px;line-height:15px;font-weight:400;letter-spacing:0.000px;word-spacing:0px;transform:scaleX(0.9341)">CARMEL</span>
<span class="t" style="left:261.0px;top:253.7px;font-size:11px;line-height:15px;font-weight:400;letter-spacing:0.000px;word-spacing:0px;transform:scaleX(1.0035)">AA1406656</span>
<span class="t" style="left:442.0px;top:253.7px;font-size:11px;line-height:15px;font-weight:400;letter-spacing:0.000px;word-spacing:-1.5px;transform:scaleX(0.9935)">DKR2 W6</span>
<span class="t" style="left:808.0px;top:253.7px;font-size:11px;line-height:15px;font-weight:400;letter-spacing:0.000px;word-spacing:0px;transform:scaleX(0.9909)">Add Animal</span>
<span class="t" style="left:24.0px;top:274.7px;font-size:11px;line-height:15px;font-weight:400;letter-spacing:0.000px;word-spacing:0px;transform:scaleX(1.0086)">222776</span>
<span class="t" style="left:77.0px;top:274.7px;font-size:11px;line-height:15px;font-weight:400;letter-spacing:0.000px;word-spacing:-1px;transform:scaleX(0.9585)">MT2064 0001</span>
<span class="t" style="left:168.1px;top:274.7px;font-size:11px;line-height:15px;font-weight:400;letter-spacing:0.000px;word-spacing:0px;transform:scaleX(0.9122)">COOKIE</span>
<span class="t" style="left:808.0px;top:274.7px;font-size:11px;line-height:15px;font-weight:400;letter-spacing:0.000px;word-spacing:0px;transform:scaleX(0.9909)">Add Animal</span>
<span class="t" style="left:24.0px;top:295.7px;font-size:11px;line-height:15px;font-weight:400;letter-spacing:0.000px;word-spacing:0px;transform:scaleX(1.0086)">222777</span>
<span class="t" style="left:77.0px;top:295.7px;font-size:11px;line-height:15px;font-weight:400;letter-spacing:0.000px;word-spacing:-1px;transform:scaleX(0.9585)">MT2064 0002</span>
<span class="t" style="left:168.1px;top:295.7px;font-size:11px;line-height:15px;font-weight:400;letter-spacing:0.000px;word-spacing:0px;transform:scaleX(0.9278)">POPPY</span>
<span class="t" style="left:808.0px;top:295.7px;font-size:11px;line-height:15px;font-weight:400;letter-spacing:0.000px;word-spacing:0px;transform:scaleX(0.9909)">Add Animal</span>
<span class="t" style="left:24.0px;top:317.7px;font-size:11px;line-height:15px;font-weight:400;letter-spacing:0.000px;word-spacing:0px;transform:scaleX(1.0086)">222778</span>
<span class="t" style="left:77.0px;top:317.7px;font-size:11px;line-height:15px;font-weight:400;letter-spacing:0.000px;word-spacing:-1px;transform:scaleX(0.9585)">MT2064 0003</span>
<span class="t" style="left:168.1px;top:317.7px;font-size:11px;line-height:15px;font-weight:400;letter-spacing:0.000px;word-spacing:0px;transform:scaleX(0.9173)">CUPCAKE</span>
<span class="t" style="left:808.0px;top:317.7px;font-size:11px;line-height:15px;font-weight:400;letter-spacing:0.000px;word-spacing:0px;transform:scaleX(0.9909)">Add Animal</span>
<span class="t" style="left:24.0px;top:338.7px;font-size:11px;line-height:15px;font-weight:400;letter-spacing:0.000px;word-spacing:0px;transform:scaleX(1.0086)">222779</span>
<span class="t" style="left:77.1px;top:338.7px;font-size:11px;line-height:15px;font-weight:400;letter-spacing:0.000px;word-spacing:-1px;transform:scaleX(0.9439)">MT2064 0004</span>
<span class="t" style="left:168.0px;top:338.7px;font-size:11px;line-height:15px;font-weight:400;letter-spacing:0.000px;word-spacing:0px;transform:scaleX(0.9590)">COCOA</span>
<span class="t" style="left:808.0px;top:338.7px;font-size:11px;line-height:15px;font-weight:400;letter-spacing:0.000px;word-spacing:0px;transform:scaleX(0.9909)">Add Animal</span>
<span class="t" style="left:24.0px;top:359.7px;font-size:11px;line-height:15px;font-weight:400;letter-spacing:0.000px;word-spacing:0px;transform:scaleX(1.0086)">222780</span>
<span class="t" style="left:77.0px;top:359.7px;font-size:11px;line-height:15px;font-weight:400;letter-spacing:0.000px;word-spacing:-1px;transform:scaleX(0.9585)">MT2064 0005</span>
<span class="t" style="left:169.0px;top:359.7px;font-size:11px;line-height:15px;font-weight:400;letter-spacing:0.000px;word-spacing:0px;transform:scaleX(0.9277)">ALMOND</span>
<span class="t" style="left:808.0px;top:359.7px;font-size:11px;line-height:15px;font-weight:400;letter-spacing:0.000px;word-spacing:0px;transform:scaleX(0.9909)">Add Animal</span>
<span class="t" style="left:650.9px;top:384.7px;font-size:11px;line-height:15px;font-weight:700;letter-spacing:0.000px;word-spacing:0px;transform:scaleX(1.0533)">Risk Info</span>
<span class="t" style="left:750.0px;top:384.7px;font-size:11px;line-height:15px;font-weight:700;letter-spacing:0.000px;word-spacing:0px">Save</span>
<span class="t" style="left:826.1px;top:384.7px;font-size:11px;line-height:15px;font-weight:700;letter-spacing:0.000px;word-spacing:0px;transform:scaleX(0.9474)">Exit</span>
<span class="t" style="left:34.9px;top:26.7px;font-size:11px;line-height:15px;font-weight:700;letter-spacing:0.000px;word-spacing:0px;transform:scaleX(1.0523)">*Current</span>
<span class="t" style="left:37.9px;top:42.7px;font-size:11px;line-height:15px;font-weight:700;letter-spacing:0.000px;word-spacing:0px;transform:scaleX(1.0550)">Prem ID</span>
<span class="t" style="left:127.7px;top:42.7px;font-size:11px;line-height:15px;font-weight:700;letter-spacing:0.000px;word-spacing:0px;transform:scaleX(1.0790)">Premises Name</span>
<span class="t" style="left:255.7px;top:42.7px;font-size:11px;line-height:15px;font-weight:700;letter-spacing:0.000px;word-spacing:0px;transform:scaleX(1.0111)">State</span>
<span class="t" style="left:290.7px;top:42.7px;font-size:11px;line-height:15px;font-weight:700;letter-spacing:0.000px;word-spacing:0px;transform:scaleX(1.0537)">Species</span>
<span class="t" style="left:340.6px;top:26.7px;font-size:11px;line-height:15px;font-weight:700;letter-spacing:0.000px;word-spacing:0px;transform:scaleX(1.1231)">Prem</span>
<span class="t" style="left:345.2px;top:42.7px;font-size:11px;line-height:15px;font-weight:700;letter-spacing:0.000px;word-spacing:0px;transform:scaleX(1.0280)">Type</span>
<span class="t" style="left:384.9px;top:26.7px;font-size:11px;line-height:15px;font-weight:700;letter-spacing:0.000px;word-spacing:0px;transform:scaleX(1.0296)">Entry</span>
<span class="t" style="left:385.9px;top:42.7px;font-size:11px;line-height:15px;font-weight:700;letter-spacing:0.000px;word-spacing:0px;transform:scaleX(0.9926)">State</span>
<span class="t" style="left:418.7px;top:42.7px;font-size:11px;line-height:15px;font-weight:700;letter-spacing:0.000px;word-spacing:0px;transform:scaleX(1.0400)">*Breed</span>
<span class="t" style="left:466.4px;top:42.7px;font-size:11px;line-height:15px;font-weight:700;letter-spacing:0.000px;word-spacing:0px;transform:scaleX(0.9875)">*Sex</span>
<span class="t" style="left:515.8px;top:26.7px;font-size:11px;line-height:15px;font-weight:700;letter-spacing:0.000px;word-spacing:0px;transform:scaleX(1.0475)">Acquisition</span>
<span class="t" style="left:530.9px;top:42.7px;font-size:11px;line-height:15px;font-weight:700;letter-spacing:0.000px;word-spacing:0px;transform:scaleX(1.0174)">Date</span>
<span class="t" style="left:613.5px;top:26.7px;font-size:11px;line-height:15px;font-weight:700;letter-spacing:0.000px;word-spacing:0px;transform:scaleX(1.0708)">Born</span>
<span class="t" style="left:613.6px;top:42.7px;font-size:11px;line-height:15px;font-weight:700;letter-spacing:0.000px;word-spacing:0px;transform:scaleX(1.0304)">Date</span>
<span class="t" style="left:676.7px;top:26.7px;font-size:11px;line-height:15px;font-weight:700;letter-spacing:0.000px;word-spacing:0px;transform:scaleX(1.0458)">Acquisition</span>
<span class="t" style="left:683.7px;top:42.7px;font-size:11px;line-height:15px;font-weight:700;letter-spacing:0.000px;word-spacing:0px;transform:scaleX(1.1115)">Prem</span>
<span class="t" style="left:767.8px;top:26.7px;font-size:11px;line-height:15px;font-weight:700;letter-spacing:0.000px;word-spacing:0px;transform:scaleX(1.0586)">Disposition</span>
<span class="t" style="left:767.8px;top:42.7px;font-size:11px;line-height:15px;font-weight:700;letter-spacing:0.000px;word-spacing:0px;transform:scaleX(1.0553)">Reason</span>
<span class="t" style="left:28.8px;top:215.7px;font-size:11px;line-height:15px;font-weight:700;letter-spacing:0.000px;word-spacing:0px;transform:scaleX(0.9795)">Seq NR</span>
<span class="t" style="left:88.6px;top:215.7px;font-size:11px;line-height:15px;font-weight:700;letter-spacing:0.000px;word-spacing:0px">Official Eartag</span>
<span class="t" style="left:178.2px;top:215.7px;font-size:11px;line-height:15px;font-weight:700;letter-spacing:0.000px;word-spacing:0px;transform:scaleX(1.0261)">Animal Name</span>
<span class="t" style="left:280.6px;top:215.7px;font-size:11px;line-height:15px;font-weight:700;letter-spacing:0.000px;word-spacing:0px;transform:scaleX(1.0039)">Regis. NR</span>
<span class="t" style="left:366.9px;top:215.7px;font-size:11px;line-height:15px;font-weight:700;letter-spacing:0.000px;word-spacing:0px;transform:scaleX(1.0745)">Owner Tag</span>
<span class="t" style="left:470.0px;top:215.7px;font-size:11px;line-height:15px;font-weight:700;letter-spacing:0.000px;word-spacing:0px;transform:scaleX(1.0687)">Tattoo</span>
<span class="t" style="left:556.3px;top:215.7px;font-size:11px;line-height:15px;font-weight:700;letter-spacing:0.000px;word-spacing:0px;transform:scaleX(1.0684)">Implant</span>
<span class="t" style="left:678.6px;top:215.7px;font-size:11px;line-height:15px;font-weight:700;letter-spacing:0.000px;word-spacing:0px;transform:scaleX(1.1022)">Remarks</span>
<span class="t" style="left:306.5px;top:6.5px;font-size:16px;line-height:20px;font-weight:700;letter-spacing:0.000px;word-spacing:0px;transform:scaleX(0.9909)">Add An Animal to a Premises</span>
<div class="fr" style="left:0;top:0;width:875px;height:1px;background:#3C443C"></div><div class="fr" style="left:872px;top:0;width:2px;height:411px;background:#6B7565"></div><div class="fr" style="left:874px;top:0;width:1px;height:411px;background:#000"></div><div class="fr" style="left:0;top:409px;width:872px;height:2px;background:#6B7565"></div><div class="fr" style="left:873px;top:409px;width:1px;height:1px;background:#000"></div><div class="fr" style="left:874px;top:409px;width:1px;height:1px;background:#6B7565"></div><div class="fr" style="left:872px;top:410px;width:3px;height:1px;background:#000"></div>
</body></html>
